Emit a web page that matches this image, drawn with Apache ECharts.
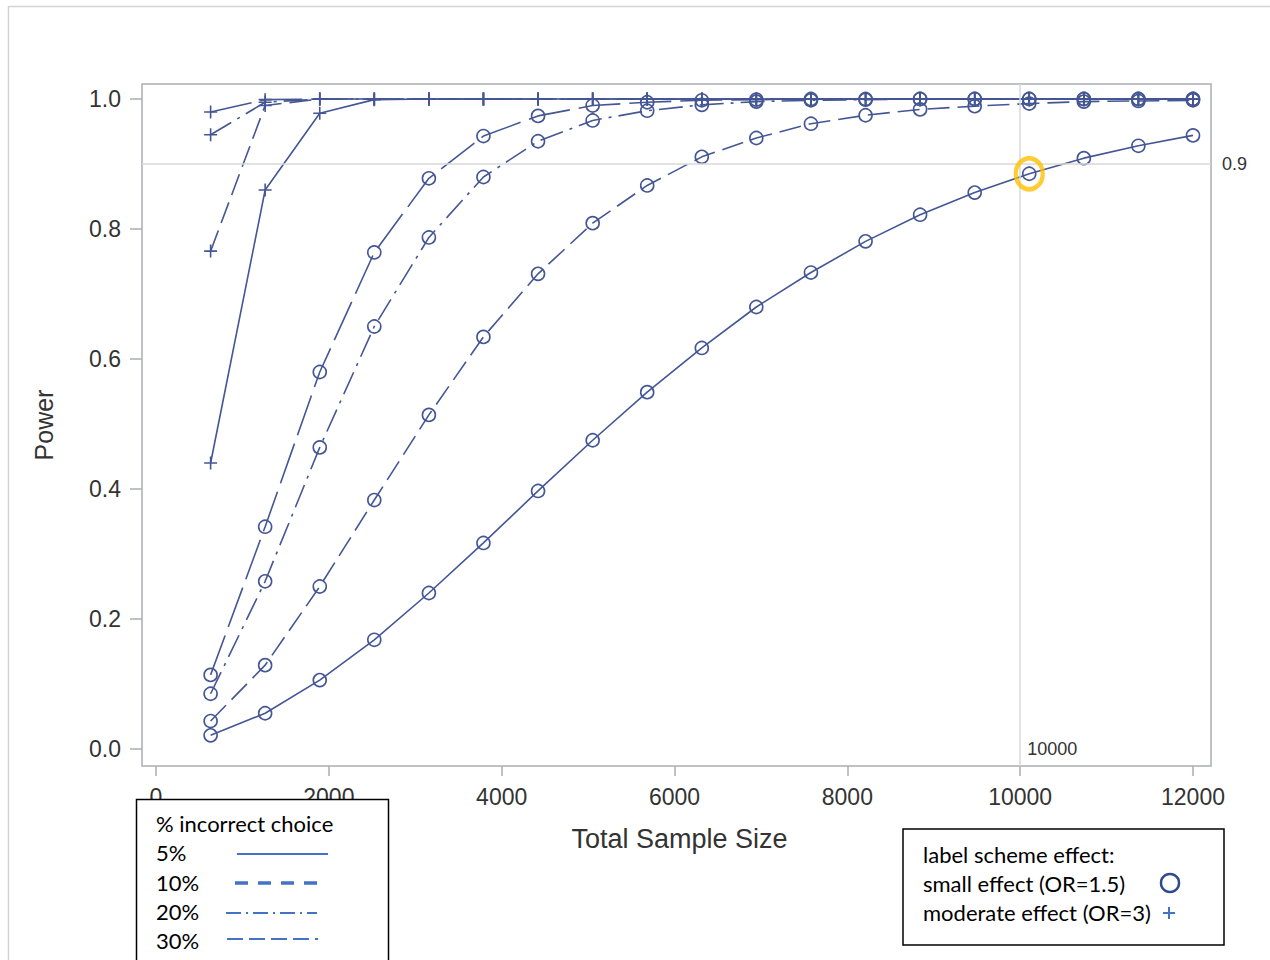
<!DOCTYPE html>
<html>
<head>
<meta charset="utf-8">
<script src="https://cdn.jsdelivr.net/npm/echarts@6/dist/echarts.min.js"></script>
<style>
html,body{margin:0;padding:0;background:#fff;}
#chart{width:1270px;height:960px;}
</style>
</head>
<body>
<div id="chart"></div>
<script>
// ---------------- data ----------------
const sampleSizes = [632, 1263, 1895, 2526, 3158, 3789, 4421, 5053, 5684, 6316, 6947, 7579, 8211, 8842, 9474, 10105, 10737, 11368, 12000];

// small effect (OR=1.5), circles
const small5  = [0.021, 0.055, 0.106, 0.168, 0.240, 0.317, 0.397, 0.475, 0.549, 0.617, 0.680, 0.733, 0.781, 0.822, 0.856, 0.885, 0.909, 0.928, 0.944];
const small10 = [0.043, 0.129, 0.250, 0.383, 0.514, 0.634, 0.731, 0.809, 0.867, 0.911, 0.940, 0.962, 0.975, 0.984, 0.989, 0.993, 0.996, 0.997, 0.998];
const small20 = [0.085, 0.258, 0.464, 0.650, 0.787, 0.880, 0.935, 0.967, 0.982, 0.991, 0.996, 0.998, 0.999, 1.000, 1.000, 1.000, 1.000, 1.000, 1.000];
const small30 = [0.114, 0.342, 0.580, 0.764, 0.878, 0.943, 0.974, 0.990, 0.995, 0.998, 0.999, 1.000, 1.000, 1.000, 1.000, 1.000, 1.000, 1.000, 1.000];

// moderate effect (OR=3), plus signs
const moderate5  = [0.440, 0.860, 0.978, 0.999, 1.000, 1.000, 1.000, 1.000, 1.000, 1.000, 1.000, 1.000, 1.000, 1.000, 1.000, 1.000, 1.000, 1.000, 1.000];
const moderate10 = [0.766, 0.990, 1.000, 1.000, 1.000, 1.000, 1.000, 1.000, 1.000, 1.000, 1.000, 1.000, 1.000, 1.000, 1.000, 1.000, 1.000, 1.000, 1.000];
const moderate20 = [0.945, 0.995, 1.000, 1.000, 1.000, 1.000, 1.000, 1.000, 1.000, 1.000, 1.000, 1.000, 1.000, 1.000, 1.000, 1.000, 1.000, 1.000, 1.000];
const moderate30 = [0.980, 0.999, 1.000, 1.000, 1.000, 1.000, 1.000, 1.000, 1.000, 1.000, 1.000, 1.000, 1.000, 1.000, 1.000, 1.000, 1.000, 1.000, 1.000];

const incorrectLabels = ['5%', '10%', '20%', '30%'];
const effectLabels = ['small effect (OR=1.5)', 'moderate effect (OR=3)'];
const legendTitle1 = '% incorrect choice';
const legendTitle2 = 'label scheme effect:';

const xTickValues = [0, 2000, 4000, 6000, 8000, 10000, 12000];
const yTickValues = [0, 0.2, 0.4, 0.6, 0.8, 1.0];
const refPower = 0.9;
const refSampleSize = 10000;
const highlightIndex = 15;   // point circled in orange (5%, small effect)

// ---------------- layout / style ----------------
const PLOT = { left: 156, right: 1193, top: 99, bottom: 749 };      // px of first/last tick
const FRAME = { left: 142, right: 1211, top: 84, bottom: 766 };     // plot frame in px
const LINE_COLOR = '#445694';
const AXIS_FONT = '"Liberation Sans", Arial, sans-serif';
const LEG_FONT = 'Lato, "Open Sans", sans-serif';
const dashFor = { '5%': 'solid', '10%': [22, 8], '20%': [24, 7, 3, 7], '30%': [42, 9] };
const PLUS = 'path://M5 0 L5 10 M0 5 L10 5';

// axis ranges of the frame, derived from where the first/last ticks sit
const xT0 = xTickValues[0], xT1 = xTickValues[xTickValues.length - 1];
const yT0 = yTickValues[0], yT1 = yTickValues[yTickValues.length - 1];
const xPerPx = (xT1 - xT0) / (PLOT.right - PLOT.left);
const yPerPx = (yT1 - yT0) / (PLOT.bottom - PLOT.top);
const frameXMin = xT0 - (PLOT.left - FRAME.left) * xPerPx;
const frameXMax = xT1 + (FRAME.right - PLOT.right) * xPerPx;
const frameYMin = yT0 - (FRAME.bottom - PLOT.bottom) * yPerPx;
const frameYMax = yT1 + (PLOT.top - FRAME.top) * yPerPx;

const pairs = vals => sampleSizes.map((x, i) => [x, vals[i]]);

function lineSeries(name, vals, pct, symbolType) {
  const isCircle = symbolType === 'circle';
  return {
    type: 'line',
    name: name,
    data: pairs(vals),
    symbol: isCircle ? 'circle' : PLUS,
    symbolSize: 13,
    showSymbol: true,
    clip: false,
    lineStyle: { color: LINE_COLOR, width: 1.6, type: dashFor[pct] },
    itemStyle: { color: 'rgba(0,0,0,0)', borderColor: LINE_COLOR, borderWidth: 1.6 },
    emphasis: { disabled: true },
    z: 3
  };
}

const smallSets = [small5, small10, small20, small30];
const moderateSets = [moderate5, moderate10, moderate20, moderate30];
const series = [];

// reference lines
series.push({
  type: 'line',
  data: [],
  silent: true,
  z: 1,
  markLine: {
    symbol: 'none',
    silent: true,
    animation: false,
    lineStyle: { color: '#d9d9d9', width: 1.5, type: 'solid' },
    label: { show: false },
    data: [
      { yAxis: refPower, label: { show: true, position: 'end', distance: 11, formatter: refPower.toFixed(1),
          fontSize: 18, fontFamily: AXIS_FONT, color: '#333' } },
      { xAxis: refSampleSize, label: { show: false } }
    ]
  },
  markPoint: {
    symbol: 'circle',
    symbolSize: 0,
    silent: true,
    animation: false,
    label: { show: true, position: 'right', distance: 7, formatter: String(refSampleSize),
      fontSize: 18, fontFamily: AXIS_FONT, color: '#333' },
    data: [{ coord: [refSampleSize, yT0] }]
  }
});

incorrectLabels.forEach((p, i) => {
  series.push(lineSeries(effectLabels[0] + ' ' + p, smallSets[i], p, 'circle'));
  series.push(lineSeries(effectLabels[1] + ' ' + p, moderateSets[i], p, 'plus'));
});

// highlight ring
series.push({
  type: 'scatter',
  data: [[sampleSizes[highlightIndex], small5[highlightIndex]]],
  symbol: 'circle',
  symbolSize: [27, 31],
  itemStyle: { color: 'rgba(0,0,0,0)', borderColor: '#FFC000', borderWidth: 4.5 },
  emphasis: { disabled: true },
  silent: true,
  clip: false,
  z: 5
});

// ---------------- legend graphics ----------------
const legendChildren = [];
legendChildren.push({ type: 'rect', shape: { x: 8.5, y: 6.5, width: 1300, height: 1000 },
  style: { fill: 'none', stroke: '#d4d4d4', lineWidth: 1.5 }, z: 0, silent: true });

// box 1
const b1 = { x: 136.5, y: 799.5, w: 252, h: 220 };
legendChildren.push({ type: 'rect', shape: { x: b1.x, y: b1.y, width: b1.w, height: b1.h },
  style: { fill: '#fff', stroke: '#000', lineWidth: 1.5 }, z: 100 });
legendChildren.push({ type: 'text', z: 101, style: { text: legendTitle1, x: 156, y: 823, fill: '#000',
  font: '22px ' + LEG_FONT, verticalAlign: 'middle' } });
const rowsY = [852, 882, 911, 940];
const swatches = [
  { x1: 237, x2: 328, y: 854, width: 2, dash: null },
  { x1: 235, x2: 318, y: 883, width: 3.5, dash: [13, 10] },
  { x1: 226, x2: 317, y: 913, width: 2, dash: [15, 5, 2, 5] },
  { x1: 227, x2: 318, y: 939, width: 2, dash: [16, 6] }
];
incorrectLabels.forEach((p, i) => {
  legendChildren.push({ type: 'text', z: 101, style: { text: p, x: 156, y: rowsY[i], fill: '#000',
    font: '22px ' + LEG_FONT, verticalAlign: 'middle' } });
  const s = swatches[i];
  legendChildren.push({ type: 'line', z: 101, shape: { x1: s.x1, y1: s.y, x2: s.x2, y2: s.y },
    style: { stroke: '#4472C4', lineWidth: s.width, lineDash: s.dash } });
});

// box 2
const b2 = { x: 903, y: 829, w: 321, h: 116 };
legendChildren.push({ type: 'rect', shape: { x: b2.x, y: b2.y, width: b2.w, height: b2.h },
  style: { fill: '#fff', stroke: '#000', lineWidth: 1.5 }, z: 100 });
legendChildren.push({ type: 'text', z: 101, style: { text: legendTitle2, x: 923, y: 854, fill: '#000',
  font: '22px ' + LEG_FONT, verticalAlign: 'middle' } });
legendChildren.push({ type: 'text', z: 101, style: { text: effectLabels[0], x: 923, y: 883, fill: '#000',
  font: '22px ' + LEG_FONT, verticalAlign: 'middle' } });
legendChildren.push({ type: 'text', z: 101, style: { text: effectLabels[1], x: 923, y: 912, fill: '#000',
  font: '22px ' + LEG_FONT, verticalAlign: 'middle' } });
legendChildren.push({ type: 'circle', z: 101, shape: { cx: 1170, cy: 883, r: 9 },
  style: { fill: 'none', stroke: '#2F4B8F', lineWidth: 2.5 } });
legendChildren.push({ type: 'line', z: 101, shape: { x1: 1163, y1: 913, x2: 1175, y2: 913 },
  style: { stroke: '#4472C4', lineWidth: 2 } });
legendChildren.push({ type: 'line', z: 101, shape: { x1: 1169, y1: 907, x2: 1169, y2: 919 },
  style: { stroke: '#4472C4', lineWidth: 2 } });

// ---------------- chart ----------------
const chart = echarts.init(document.getElementById('chart'), null, { renderer: 'svg' });
chart.setOption({
  animation: false,
  backgroundColor: '#fff',
  grid: {
    left: FRAME.left, top: FRAME.top, width: FRAME.right - FRAME.left, height: FRAME.bottom - FRAME.top,
    show: true, borderColor: '#a9aeb3', borderWidth: 1.5, backgroundColor: 'transparent', containLabel: false
  },
  xAxis: {
    type: 'value', min: frameXMin, max: frameXMax,
    name: 'Total Sample Size', nameLocation: 'middle', nameGap: 59,
    nameTextStyle: { fontSize: 27, fontFamily: AXIS_FONT, color: '#333', padding: [0, 0, 0, 6] },
    axisLine: { show: false, onZero: false },
    axisTick: { show: true, inside: false, length: 10, customValues: xTickValues, lineStyle: { color: '#a9aeb3', width: 1.5 } },
    axisLabel: { show: true, customValues: xTickValues, fontSize: 23, fontFamily: AXIS_FONT, color: '#333', margin: 19,
      formatter: v => String(Math.round(v)) },
    splitLine: { show: false }
  },
  yAxis: {
    type: 'value', min: frameYMin, max: frameYMax,
    name: 'Power', nameLocation: 'middle', nameGap: 86,
    nameTextStyle: { fontSize: 25, fontFamily: AXIS_FONT, color: '#333' },
    axisLine: { show: false, onZero: false },
    axisTick: { show: true, inside: false, length: 12, customValues: yTickValues, lineStyle: { color: '#a9aeb3', width: 1.5 } },
    axisLabel: { show: true, customValues: yTickValues, fontSize: 23, fontFamily: AXIS_FONT, color: '#333', margin: 21,
      formatter: v => Number(v).toFixed(1) },
    splitLine: { show: false }
  },
  series: series,
  graphic: [{ type: 'group', children: legendChildren }]
});
</script>
</body>
</html>
